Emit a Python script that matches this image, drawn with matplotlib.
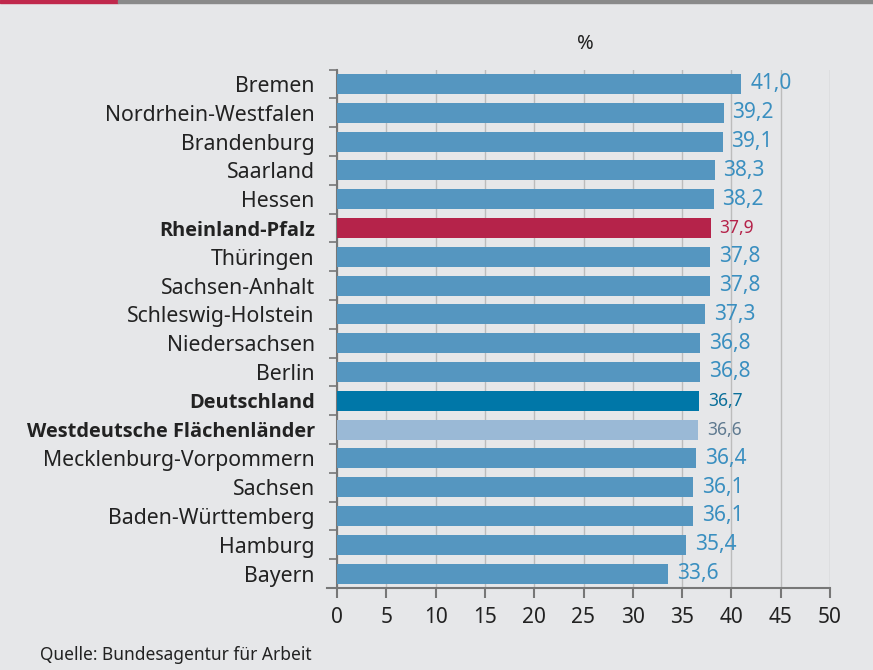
import matplotlib
matplotlib.use("Agg")
import matplotlib.pyplot as plt
from matplotlib.patches import Rectangle
import numpy as np

categories = ["Bremen", "Nordrhein-Westfalen", "Brandenburg", "Saarland", "Hessen",
              "Rheinland-Pfalz", "Thüringen", "Sachsen-Anhalt", "Schleswig-Holstein",
              "Niedersachsen", "Berlin", "Deutschland", "Westdeutsche Flächenländer",
              "Mecklenburg-Vorpommern", "Sachsen", "Baden-Württemberg", "Hamburg", "Bayern"]
values = [41.0, 39.2, 39.1, 38.3, 38.2, 37.9, 37.8, 37.8, 37.3, 36.8, 36.8, 36.7, 36.6,
          36.4, 36.1, 36.1, 35.4, 33.6]
xticks = [0, 5, 10, 15, 20, 25, 30, 35, 40, 45, 50]

plt.rcParams['font.family'] = ['Noto Sans', 'DejaVu Sans']

BG = "#e6e7e9"
default_bar = "#5596c0"
default_txt = "#3a8fc0"
special = {
    "Rheinland-Pfalz": ("#b5234a", "#b5234a"),
    "Deutschland": ("#0077a8", "#0a6f9a"),
    "Westdeutsche Flächenländer": ("#9ab9d6", "#5f7a90"),
}

fig = plt.figure(figsize=(8.73, 6.7), dpi=100, facecolor=BG)
ax = fig.add_axes([337/873, 1-588/670, (830-337)/873, (588-69.6)/670])
ax.set_facecolor(BG)

y = np.arange(len(categories))
bar_colors = [special.get(c, (default_bar, default_txt))[0] for c in categories]
ax.barh(y, values, height=0.7, color=bar_colors, zorder=3)

for i, (c, v) in enumerate(zip(categories, values)):
    tcol = special.get(c, (default_bar, default_txt))[1]
    fs = 12.5 if c in special else 15
    ax.text(v + 0.9, i, f"{v:.1f}".replace(".", ","), va="center", ha="left",
            color=tcol, fontsize=fs, zorder=4)

ax.set_ylim(len(categories) - 0.5, -0.5)
ax.set_xlim(0, 50)
ax.set_xticks(xticks)
ax.set_xticklabels([str(t) for t in xticks], fontsize=15, color="#222222")
ax.set_yticks(y)
ax.set_yticklabels(categories, fontsize=15.3, color="#222222")
for lbl, c in zip(ax.get_yticklabels(), categories):
    if c in ("Rheinland-Pfalz", "Deutschland", "Westdeutsche Flächenländer"):
        lbl.set_fontfamily(["Open Sans", "DejaVu Sans"])
        lbl.set_fontweight("bold")
        lbl.set_fontsize(14.4)
ax.tick_params(axis="y", length=0, pad=16)
ax.set_yticks(np.arange(-0.5, len(categories), 1), minor=True)
ax.tick_params(axis="y", which="minor", length=6, color="#777777", width=1.2)
ax.tick_params(axis="x", length=7, color="#777777", width=1.5, pad=7)

ax.grid(axis="x", color="#bcbcbc", linewidth=1.0, zorder=0)
for s in ["top", "right"]:
    ax.spines[s].set_visible(False)
for s in ["left", "bottom"]:
    ax.spines[s].set_color("#777777")
    ax.spines[s].set_linewidth(1.5)
ax.spines["bottom"].set_bounds(-1.0, 50)

fig.text(585/873, 1-44/670, "%", ha="center", va="center", fontsize=14.5, color="#222222")
fig.text(40/873, 1-655/670, "Quelle: Bundesagentur für Arbeit", ha="left", va="center",
         fontsize=12.5, color="#222222")

fig.patches.append(Rectangle((0, 1-3/670), 118/873, 3/670, transform=fig.transFigure,
                             color="#c0284c", zorder=5))
fig.patches.append(Rectangle((118/873, 1-3/670), 1-118/873, 3/670, transform=fig.transFigure,
                             color="#8a8a8a", zorder=5))

fig.savefig("out.png", dpi=100, facecolor=BG)
